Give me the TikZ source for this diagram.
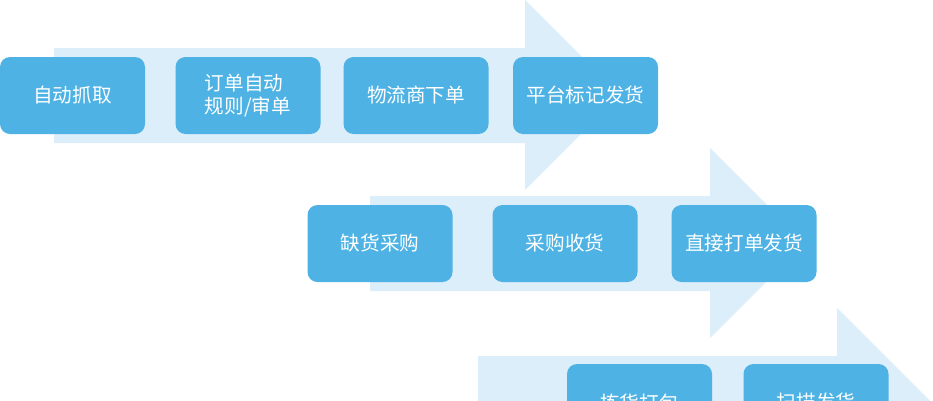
\documentclass[tikz,border=0pt]{standalone}
\usepackage{fontspec}
\setmainfont{Noto Sans CJK SC}
\definecolor{boxblue}{RGB}{78,179,228}
\definecolor{bandblue}{RGB}{220,238,249}
\tikzset{
  stepbox/.style={fill=boxblue, rounded corners=10pt, minimum width=145pt, minimum height=77pt,
    text=white, font=\fontsize{19.6pt}{23pt}\selectfont, inner sep=0pt, align=left},
  band/.style={fill=bandblue}
}
\begin{document}
\begin{tikzpicture}[x=1pt,y=-1pt]
\useasboundingbox (0,0) rectangle (933,400);
\clip (0,0) rectangle (933,400);
\fill[white] (0,0) rectangle (933,400);
% arrows
\fill[band] (54,48) -- (525,48) -- (525,0) -- (620,95) -- (525,190) -- (525,143) -- (54,143) -- cycle;
\fill[band] (370,196) -- (710,196) -- (710,148) -- (805,243) -- (710,338) -- (710,291) -- (370,291) -- cycle;
\fill[band] (478,356) -- (837,356) -- (837,308) -- (932,403) -- (837,498) -- (837,451) -- (478,451) -- cycle;
% row 1
\node[stepbox] (a1) at (72.5,95.5) {自动抓取};
\node[stepbox] (a2) at (248,95.5) {订单自动\\规则/审单};
\node[stepbox] (a3) at (416,95.5) {物流商下单};
\node[stepbox] (a4) at (585.5,95.5) {平台标记发货};
% row 2
\node[stepbox] (b1) at (380,243.5) {缺货采购};
\node[stepbox] (b2) at (565,243.5) {采购收货};
\node[stepbox] (b3) at (744,243.5) {直接打单发货};
% row 3
\node[stepbox] (c1) at (639.5,402.5) {拣货打包};
\node[stepbox] (c2) at (816,402.5) {扫描发货};
\end{tikzpicture}
\end{document}
